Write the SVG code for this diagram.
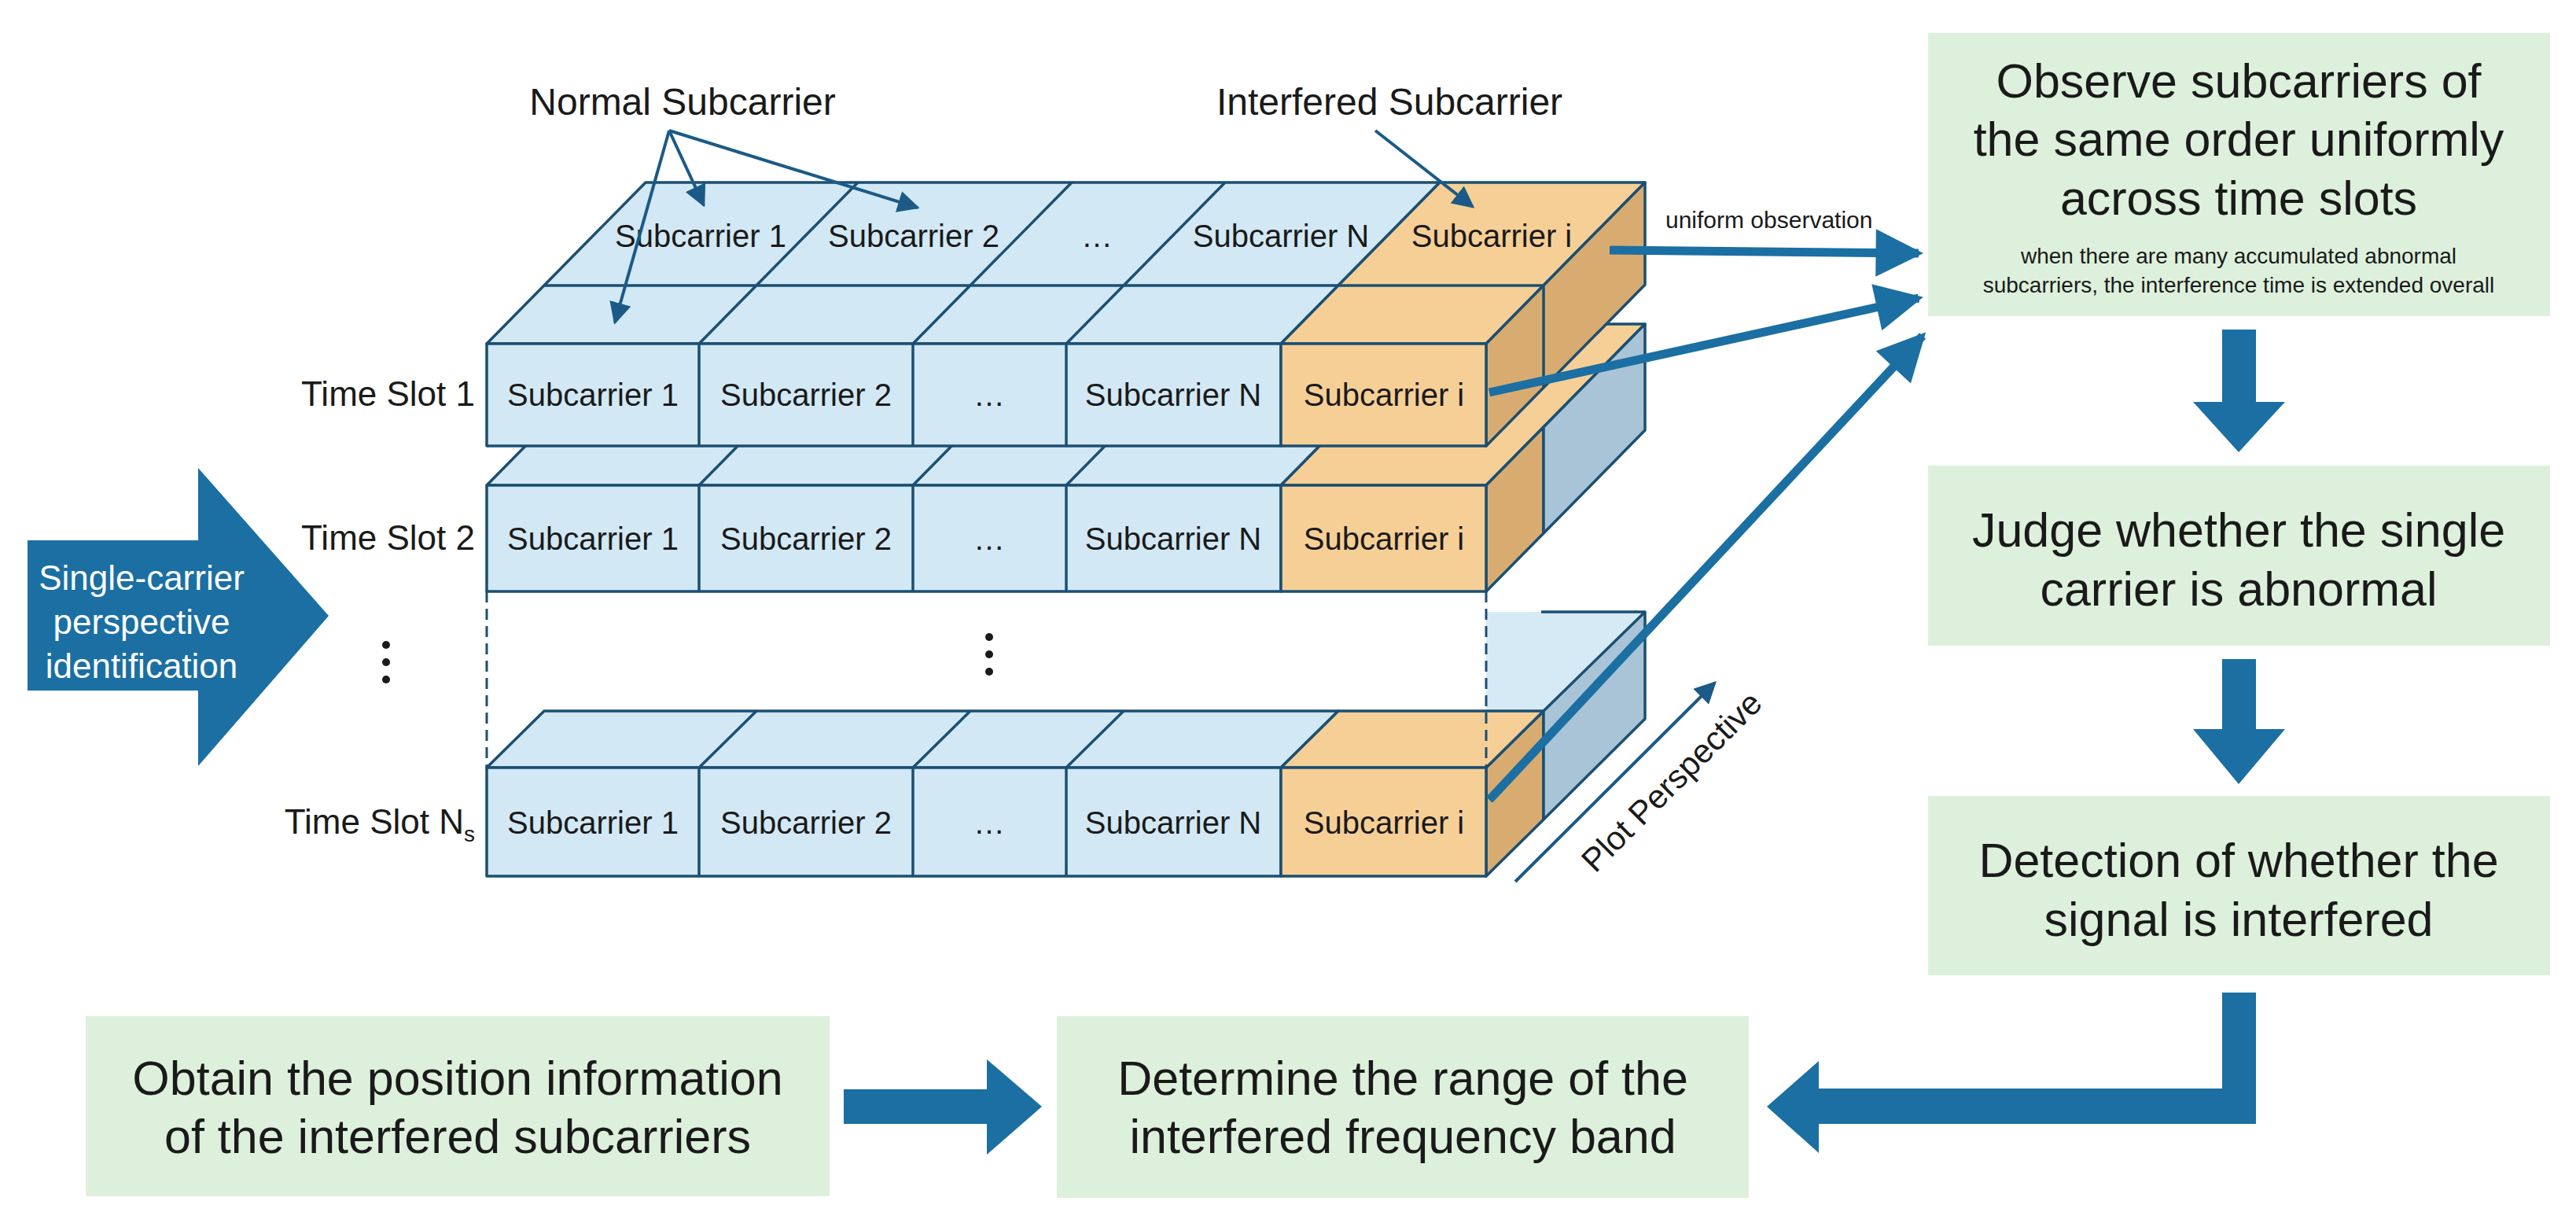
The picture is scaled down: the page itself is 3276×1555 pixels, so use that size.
<svg xmlns="http://www.w3.org/2000/svg" width="3276" height="1555" viewBox="0 0 3276 1555">
<style>
text{font-family:"Liberation Sans",Arial,sans-serif;fill:#1a1a1a}
.c{text-anchor:middle}
.cell{font-size:40px}
.ts{font-size:44px;text-anchor:end}
.big{font-size:61px;text-anchor:middle}
.fb{fill:#d2e8f5;stroke:#1b4f72;stroke-width:3.5;stroke-linejoin:round}
.fo{fill:#f6cf96;stroke:#1b4f72;stroke-width:3.5;stroke-linejoin:round}
.so{fill:#d8ac70;stroke:#1b4f72;stroke-width:3.5;stroke-linejoin:round}
.sg{fill:#a9c4d7;stroke:#1b4f72;stroke-width:3.5;stroke-linejoin:round}
.ln{stroke:#1b4f72;stroke-width:3.5;fill:none}
.box{fill:#ddf0dc}
.blk{fill:#1b6fa2}
.thin{stroke:#1b5a86;stroke-width:4;fill:none;marker-end:url(#ah)}
.thick{stroke:#1b6fa2;stroke-width:11;fill:none;marker-end:url(#bh)}
</style>
<defs>
<marker id="ah" viewBox="0 0 10 10" refX="9" refY="5" markerWidth="7" markerHeight="7" orient="auto" markerUnits="strokeWidth"><path d="M0,0 L10,5 L0,10 z" fill="#1b5a86"/></marker>
<marker id="bh" viewBox="0 0 10 10" refX="9" refY="5" markerWidth="6" markerHeight="5.5" orient="auto" markerUnits="strokeWidth"><path d="M0,0 L10,5 L0,10 z" fill="#1b6fa2"/></marker>
</defs>
<rect width="3276" height="1555" fill="#ffffff"/>

<!-- Time slot Ns -->
<g id="slotNs">
<polygon points="1890,778 2092,778 1963,906 1890,906" fill="#d6eaf5"/>
<line class="ln" x1="1960" y1="778" x2="2092" y2="778"/>
<polygon class="so" points="1890,976 1963,904 1963,1042 1890,1114"/>
<polygon class="sg" points="1963,904 2092,778 2092,914 1963,1042"/>
<polygon class="fb" points="619,976 692,904 1702,904 1629,976"/>
<polygon class="fo" points="1629,976 1702,904 1963,904 1890,976"/>
<path class="ln" d="M889,976 L962,904 M1161,976 L1234,904 M1356,976 L1429,904"/>
<rect class="fb" x="619" y="976" width="1010" height="138"/>
<rect class="fo" x="1629" y="976" width="261" height="138"/>
<path class="ln" d="M889,976 V1114 M1161,976 V1114 M1356,976 V1114"/>
<text class="cell c" x="754" y="1060">Subcarrier 1</text>
<text class="cell c" x="1025" y="1060">Subcarrier 2</text>
<text class="cell c" x="1258" y="1060">…</text>
<text class="cell c" x="1492" y="1060">Subcarrier N</text>
<text class="cell c" x="1760" y="1060">Subcarrier i</text>
<text class="ts" x="604" y="1060">Time Slot N<tspan font-size="28" dy="10">s</tspan></text>
</g>

<!-- dashed gap -->
<g id="gap">
<path d="M619,752 V976 M1890,752 V976" stroke="#1b4f72" stroke-width="3" stroke-dasharray="14,8" fill="none"/>
<g fill="#1a1a1a"><circle cx="491" cy="820" r="5"/><circle cx="491" cy="842" r="5"/><circle cx="491" cy="864" r="5"/>
<circle cx="1258" cy="810" r="5"/><circle cx="1258" cy="832" r="5"/><circle cx="1258" cy="854" r="5"/></g>
</g>

<!-- Time slot 2 -->
<g id="slot2">
<polygon class="fb" points="619,617 821,412 1831,412 1629,617"/>
<polygon class="fo" points="1629,617 1831,412 2092,412 1890,617"/>
<path class="ln" d="M889,617 L1091,412 M1161,617 L1363,412 M1356,617 L1558,412"/>
<polygon class="so" points="1890,617 1963,543 1963,678 1890,752"/>
<polygon class="sg" points="1963,543 2092,412 2092,547 1963,678"/>
<rect class="fb" x="619" y="617" width="1010" height="135"/>
<rect class="fo" x="1629" y="617" width="261" height="135"/>
<path class="ln" d="M889,617 V752 M1161,617 V752 M1356,617 V752"/>
<text class="cell c" x="754" y="699">Subcarrier 1</text>
<text class="cell c" x="1025" y="699">Subcarrier 2</text>
<text class="cell c" x="1258" y="699">…</text>
<text class="cell c" x="1492" y="699">Subcarrier N</text>
<text class="cell c" x="1760" y="699">Subcarrier i</text>
<text class="ts" x="604" y="699">Time Slot 2</text>
</g>

<!-- Time slot 1 -->
<g id="slot1">
<polygon class="fb" points="619,437 821,232 1831,232 1629,437"/>
<polygon class="fo" points="1629,437 1831,232 2092,232 1890,437"/>
<path class="ln" d="M692,363 H1963 M889,437 L1091,232 M1161,437 L1363,232 M1356,437 L1558,232"/>
<polygon class="so" points="1890,437 2092,232 2092,362 1890,567"/>
<line class="ln" x1="1963" y1="363" x2="1963" y2="493"/>
<rect class="fb" x="619" y="437" width="1010" height="130"/>
<rect class="fo" x="1629" y="437" width="261" height="130"/>
<path class="ln" d="M889,437 V567 M1161,437 V567 M1356,437 V567"/>
<text class="cell c" x="754" y="516">Subcarrier 1</text>
<text class="cell c" x="1025" y="516">Subcarrier 2</text>
<text class="cell c" x="1258" y="516">…</text>
<text class="cell c" x="1492" y="516">Subcarrier N</text>
<text class="cell c" x="1760" y="516">Subcarrier i</text>
<text class="cell c" x="891" y="314">Subcarrier 1</text>
<text class="cell c" x="1162" y="314">Subcarrier 2</text>
<text class="cell c" x="1395" y="314">…</text>
<text class="cell c" x="1629" y="314">Subcarrier N</text>
<text class="cell c" x="1897" y="314">Subcarrier i</text>
<text class="ts" x="604" y="516">Time Slot 1</text>
</g>

<g id="labels">
<text class="c" x="868" y="146" font-size="48">Normal Subcarrier</text>
<text class="c" x="1767" y="146" font-size="48">Interfered Subcarrier</text>
<text x="2118" y="290" font-size="30">uniform observation</text>
<text class="c" transform="translate(2136,1004) rotate(-45)" font-size="42">Plot Perspective</text>
</g>

<g id="start">
<polygon class="blk" points="35,687 252,687 252,595 418,783 252,974 252,878 35,878"/>
<text class="c" x="180" y="750" font-size="44" style="fill:#ffffff">Single-carrier</text>
<text class="c" x="180" y="806" font-size="44" style="fill:#ffffff">perspective</text>
<text class="c" x="180" y="862" font-size="44" style="fill:#ffffff">identification</text>
</g>

<g id="observe">
<rect class="box" x="2452" y="42" width="791" height="360"/>
<text class="big" x="2847" y="124">Observe subcarriers of</text>
<text class="big" x="2847" y="198">the same order uniformly</text>
<text class="big" x="2847" y="273">across time slots</text>
<text class="c" x="2847" y="335" font-size="28">when there are many accumulated abnormal</text>
<text class="c" x="2847" y="372" font-size="28">subcarriers, the interference time is extended overall</text>
</g>
<g id="judge">
<rect class="box" x="2452" y="592" width="791" height="229"/>
<text class="big" x="2847" y="695">Judge whether the single</text>
<text class="big" x="2847" y="770">carrier is abnormal</text>
</g>
<g id="detect">
<rect class="box" x="2452" y="1012" width="791" height="228"/>
<text class="big" x="2847" y="1115">Detection of whether the</text>
<text class="big" x="2847" y="1190">signal is interfered</text>
</g>
<g id="range">
<rect class="box" x="1344" y="1292" width="880" height="231"/>
<text class="big" x="1784" y="1392">Determine the range of the</text>
<text class="big" x="1784" y="1466">interfered frequency band</text>
</g>
<g id="position">
<rect class="box" x="109" y="1292" width="946" height="229"/>
<text class="big" x="582" y="1392">Obtain the position information</text>
<text class="big" x="582" y="1466">of the interfered subcarriers</text>
</g>

<g id="connectors">
<path class="thin" d="M851,166 L895,261"/>
<path class="thin" d="M851,166 L1167,264"/>
<path class="thin" d="M851,166 L782,410"/>
<path class="thin" d="M1749,166 L1873,263"/>
<path class="thin" d="M1927,1121 L2181,868"/>
<path class="thick" d="M2047,318 L2440,322"/>
<path class="thick" d="M1894,499 L2440,379"/>
<path class="thick" d="M1894,1017 L2445,427"/>
<polygon class="blk" points="2826,419 2869,419 2869,511 2906,511 2847,575 2789,511 2826,511"/>
<polygon class="blk" points="2826,838 2869,838 2869,927 2906,927 2847,997 2789,927 2826,927"/>
<polygon class="blk" points="2826,1262 2869,1262 2869,1429 2313,1429 2313,1466 2247,1407 2313,1349 2313,1384 2826,1384"/>
<polygon class="blk" points="1073,1385 1255,1385 1255,1347 1325,1407 1255,1468 1255,1429 1073,1429"/>
</g>
</svg>
